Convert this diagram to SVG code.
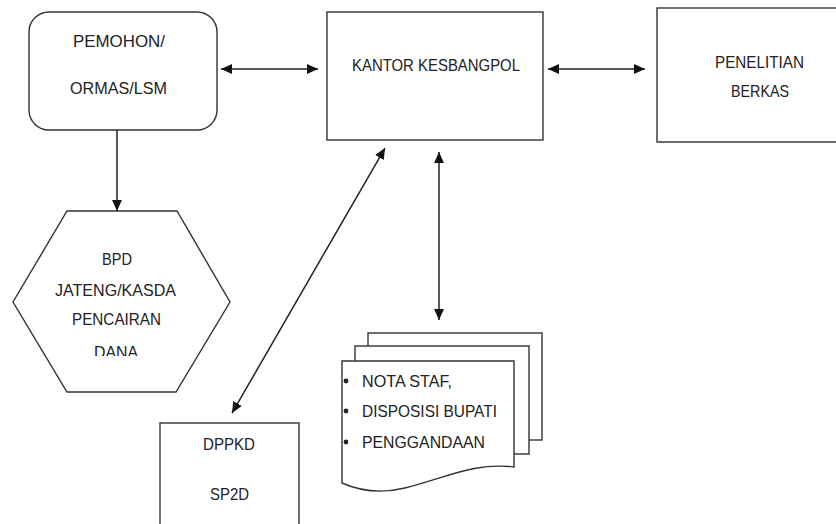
<svg xmlns="http://www.w3.org/2000/svg" width="836" height="524" viewBox="0 0 836 524">
<style>
.box{fill:#fff;stroke:#333;stroke-width:1.4}
.t{font-family:"Liberation Sans",Arial,sans-serif;font-size:17px;fill:#222}
.c{stroke:#222;stroke-width:1.5;fill:none;marker-end:url(#ah)}
.bi{marker-start:url(#ah)}
</style>
<defs>
<marker id="ah" viewBox="0 0 10 10" refX="10" refY="5" markerWidth="11" markerHeight="11" markerUnits="userSpaceOnUse" orient="auto-start-reverse">
<path d="M0,0.5 L10,5 L0,9.5 Z" fill="#111"/>
</marker>
<clipPath id="clipDana"><rect x="0" y="330" width="300" height="26"/></clipPath>
</defs>
<rect width="836" height="524" fill="#fff"/>
<g id="pemohon">
<rect class="box" x="29" y="12" width="188" height="118" rx="20"/>
<text class="t" x="73" y="47" textLength="92" lengthAdjust="spacingAndGlyphs">PEMOHON/</text>
<text class="t" x="70" y="94" textLength="97" lengthAdjust="spacingAndGlyphs">ORMAS/LSM</text>
</g>
<g id="kantor">
<rect class="box" x="327" y="12" width="216" height="128"/>
<text class="t" x="352" y="71" textLength="168" lengthAdjust="spacingAndGlyphs">KANTOR KESBANGPOL</text>
</g>
<g id="penelitian">
<rect class="box" x="657" y="8" width="210" height="134"/>
<text class="t" x="715" y="68" textLength="89" lengthAdjust="spacingAndGlyphs">PENELITIAN</text>
<text class="t" x="731" y="97" textLength="58" lengthAdjust="spacingAndGlyphs">BERKAS</text>
</g>
<g id="bpd">
<polygon class="box" points="67,211 177,211 230,302 176,392 67,392 13,302"/>
<text class="t" x="102" y="265" textLength="30" lengthAdjust="spacingAndGlyphs">BPD</text>
<text class="t" x="55" y="296" textLength="121" lengthAdjust="spacingAndGlyphs">JATENG/KASDA</text>
<text class="t" x="72" y="325" textLength="89" lengthAdjust="spacingAndGlyphs">PENCAIRAN</text>
<text class="t" x="94" y="358" textLength="44" lengthAdjust="spacingAndGlyphs" clip-path="url(#clipDana)">DANA</text>
</g>
<g id="dppkd">
<rect class="box" x="160" y="423" width="139" height="110"/>
<text class="t" x="203" y="450" textLength="52" lengthAdjust="spacingAndGlyphs">DPPKD</text>
<text class="t" x="210" y="500" textLength="39" lengthAdjust="spacingAndGlyphs">SP2D</text>
</g>
<g id="dokumen">
<rect class="box" x="368" y="333" width="174" height="107"/>
<rect class="box" x="355" y="346" width="174" height="108"/>
<path class="box" d="M342,361 H514 V467 C475,462 445,478 405,488 C380,494 360,491 342,483 Z"/>
<circle cx="346" cy="381" r="2.4" fill="#222"/>
<circle cx="346" cy="411" r="2.4" fill="#222"/>
<circle cx="346" cy="442" r="2.4" fill="#222"/>
<text class="t" x="362" y="387" textLength="90" lengthAdjust="spacingAndGlyphs">NOTA STAF,</text>
<text class="t" x="362" y="417" textLength="135" lengthAdjust="spacingAndGlyphs">DISPOSISI BUPATI</text>
<text class="t" x="362" y="448" textLength="123" lengthAdjust="spacingAndGlyphs">PENGGANDAAN</text>
</g>
<g id="connectors">
<line class="c bi" x1="221" y1="69" x2="318" y2="69"/>
<line class="c bi" x1="548" y1="69" x2="645" y2="69"/>
<line class="c" x1="117" y1="130" x2="117" y2="211"/>
<line class="c bi" x1="385" y1="148" x2="232" y2="413"/>
<line class="c bi" x1="439" y1="152" x2="439" y2="320"/>
</g>
</svg>
